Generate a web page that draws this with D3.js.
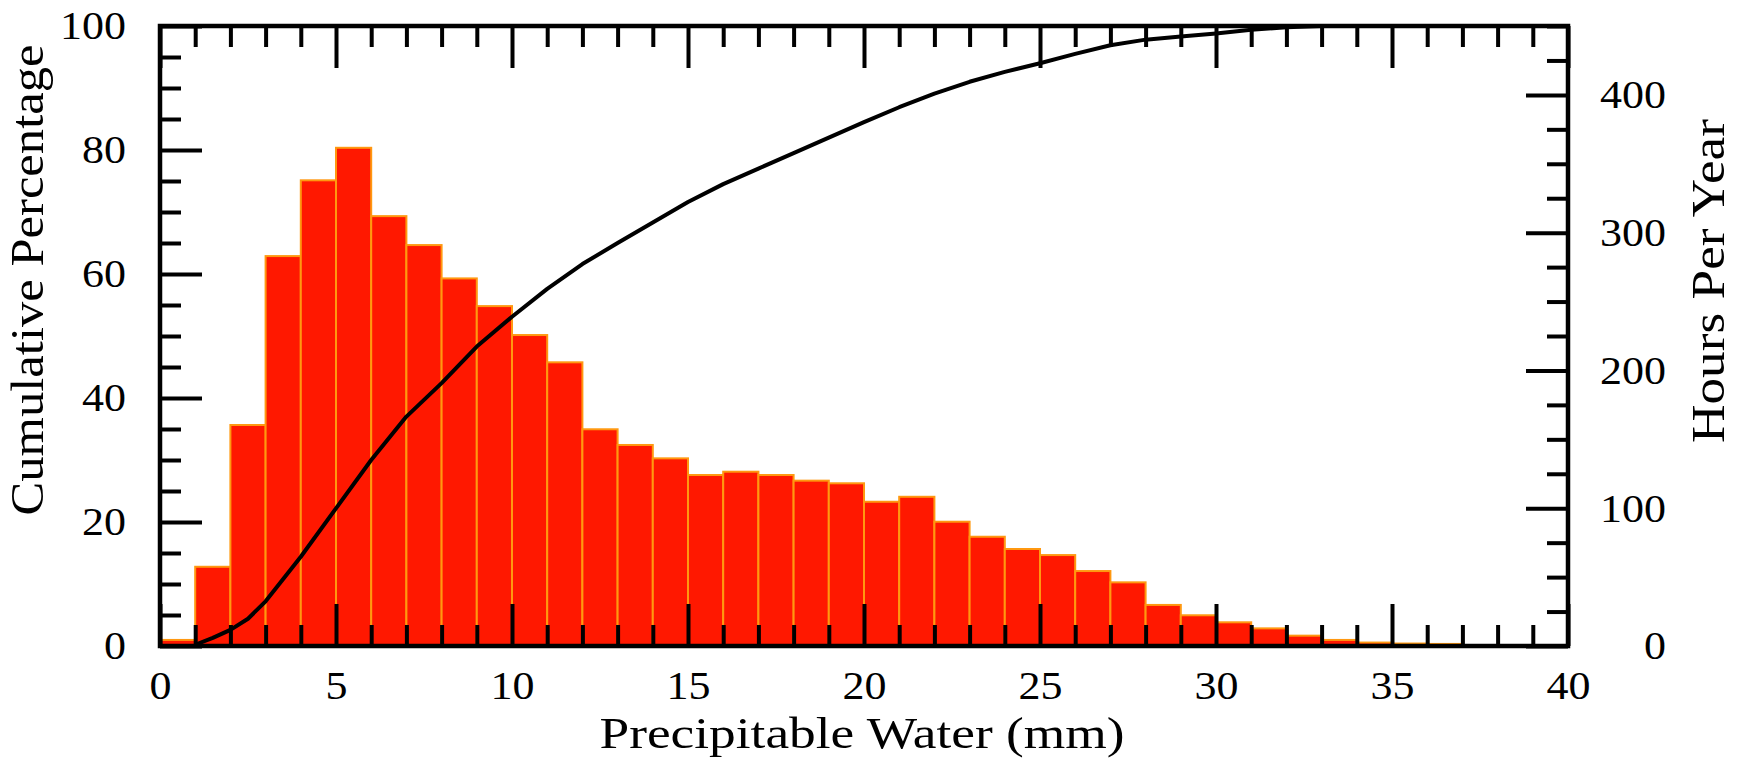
<!DOCTYPE html>
<html>
<head>
<meta charset="utf-8">
<script src="https://cdn.jsdelivr.net/npm/d3@7"></script>
<style>
  html, body { margin: 0; padding: 0; background: #fff; }
  svg { display: block; }
  text { font-family: "Liberation Serif", "Times New Roman", serif; fill: #000; }
</style>
</head>
<body>
<svg id="chart" width="1738" height="766"></svg>
<script>
// left edge of each 1 mm histogram bin
const binStart = [0, 1, 2, 3, 4, 5, 6, 7, 8, 9, 10, 11, 12, 13, 14, 15, 16, 17, 18,
                  19, 20, 21, 22, 23, 24, 25, 26, 27, 28, 29, 30, 31, 32, 33, 34, 35, 36];
// hours per year in each bin (right axis)
const hoursPerYear = [4.4, 57.5, 160.4, 283, 338, 361.6, 312, 291, 266.8, 246.7, 225.7, 205.9,
                      157.3, 145.9, 136.2, 124.1, 126.5, 124.1, 120.0, 118.1, 104.7, 108.3, 90.2,
                      79.3, 70.4, 66.0, 54.4, 46.2, 29.8, 22.3, 17.2, 12.8, 7.5, 4.4, 2.5, 1.8, 1.5];

// cumulative percentage curve (left axis)
const cumWater = [1, 1.5, 2, 2.5, 3, 4, 5, 6, 7, 8, 9, 10, 11, 12, 13, 14, 15, 16, 17, 18, 19,
                  20, 21, 22, 23, 24, 25, 26, 27, 28, 29, 30, 31, 32, 33, 37];
const cumPercent = [0.2, 1.3, 2.6, 4.4, 7.2, 14.4, 22.2, 30.0, 37.0, 42.4, 48.3, 53.1, 57.6, 61.6,
                    65.0, 68.3, 71.6, 74.5, 77.0, 79.5, 82.0, 84.5, 86.9, 89.1, 91.0, 92.6, 94.0,
                    95.5, 96.9, 97.8, 98.3, 98.8, 99.4, 99.8, 100, 100];

// tick labels
const xTicks = [0, 5, 10, 15, 20, 25, 30, 35, 40];
const pctTicks = [0, 20, 40, 60, 80, 100];
const hrsTicks = [0, 100, 200, 300, 400];

const svg = d3.select("#chart");
const L = 160, R = 1568, T = 26, B = 646;
const sx = 1.1; // glyphs in the original are a bit wider than Times

const x = d3.scaleLinear().domain([0, 40]).range([L, R]);
const yPct = d3.scaleLinear().domain([0, 100]).range([B, T]);
const yHrs = d3.scaleLinear().domain([0, 450]).range([B, T]);

// bars
svg.append("g").selectAll("rect")
  .data(binStart)
  .join("rect")
  .attr("x", d => x(d))
  .attr("width", d => x(d + 1) - x(d))
  .attr("y", (d, i) => yHrs(hoursPerYear[i]))
  .attr("height", (d, i) => B - yHrs(hoursPerYear[i]))
  .attr("fill", "#ff1800")
  .attr("stroke", "#ff9810")
  .attr("stroke-width", 2);

// cumulative line
const line = d3.line()
  .x((d, i) => x(cumWater[i]))
  .y(d => yPct(d));
svg.append("path")
  .datum(cumPercent)
  .attr("d", line)
  .attr("fill", "none")
  .attr("stroke", "#000")
  .attr("stroke-width", 4)
  .attr("stroke-linejoin", "round");

// axes: inward ticks, major + minor
function styleAxis(g) {
  g.select(".domain").remove();
  g.selectAll(".tick line").attr("stroke", "#000").attr("stroke-width", 4);
  g.attr("font-size", 40);
}
const notIn = arr => v => !arr.includes(v);

const xMinor = d3.range(0, 41, 1).filter(notIn(xTicks));
const pctMinor = d3.range(0, 101, 5).filter(notIn(pctTicks));
const hrsMinor = d3.range(0, 451, 25).filter(notIn(hrsTicks));

// bottom
svg.append("g").attr("transform", `translate(0,${B})`)
  .call(d3.axisBottom(x).tickValues(xMinor).tickSize(-21).tickSizeOuter(0).tickFormat(""))
  .call(styleAxis);
svg.append("g").attr("transform", `translate(0,${B})`)
  .call(d3.axisBottom(x).tickValues(xTicks).tickSize(-42).tickSizeOuter(0).tickPadding(25))
  .call(styleAxis)
  .call(g => g.selectAll("text").attr("transform", `scale(${sx},1)`));

// top
svg.append("g").attr("transform", `translate(0,${T})`)
  .call(d3.axisTop(x).tickValues(xMinor).tickSize(-21).tickSizeOuter(0).tickFormat(""))
  .call(styleAxis);
svg.append("g").attr("transform", `translate(0,${T})`)
  .call(d3.axisTop(x).tickValues(xTicks).tickSize(-42).tickSizeOuter(0).tickFormat(""))
  .call(styleAxis);

// left (cumulative percentage)
svg.append("g").attr("transform", `translate(${L},0)`)
  .call(d3.axisLeft(yPct).tickValues(pctMinor).tickSize(-21).tickSizeOuter(0).tickFormat(""))
  .call(styleAxis);
svg.append("g").attr("transform", `translate(${L},0)`)
  .call(d3.axisLeft(yPct).tickValues(pctTicks).tickSize(-42).tickSizeOuter(0))
  .call(styleAxis)
  .call(g => g.selectAll("text")
    .attr("x", -34 / sx)
    .attr("transform", `scale(${sx},1)`));

// right (hours per year)
svg.append("g").attr("transform", `translate(${R},0)`)
  .call(d3.axisRight(yHrs).tickValues(hrsMinor).tickSize(-21).tickSizeOuter(0).tickFormat(""))
  .call(styleAxis);
svg.append("g").attr("transform", `translate(${R},0)`)
  .call(d3.axisRight(yHrs).tickValues(hrsTicks).tickSize(-42).tickSizeOuter(0))
  .call(styleAxis)
  .call(g => g.selectAll("text")
    .attr("text-anchor", "end")
    .attr("x", 98 / sx)
    .attr("transform", `scale(${sx},1)`));

// frame
svg.append("rect")
  .attr("x", L).attr("y", T)
  .attr("width", R - L).attr("height", B - T)
  .attr("fill", "none")
  .attr("stroke", "#000")
  .attr("stroke-width", 4.5);

// axis titles
svg.append("text")
  .attr("x", (L + R) / 2 - 2).attr("y", 748)
  .attr("text-anchor", "middle")
  .attr("font-size", 45)
  .attr("textLength", 525).attr("lengthAdjust", "spacingAndGlyphs")
  .text("Precipitable Water (mm)");

svg.append("text")
  .attr("transform", "translate(43,280) rotate(-90)")
  .attr("text-anchor", "middle")
  .attr("font-size", 47)
  .attr("textLength", 471).attr("lengthAdjust", "spacingAndGlyphs")
  .text("Cumulative Percentage");

svg.append("text")
  .attr("transform", "translate(1724,281) rotate(-90)")
  .attr("text-anchor", "middle")
  .attr("font-size", 47)
  .attr("textLength", 324).attr("lengthAdjust", "spacingAndGlyphs")
  .text("Hours Per Year");
</script>
</body>
</html>
